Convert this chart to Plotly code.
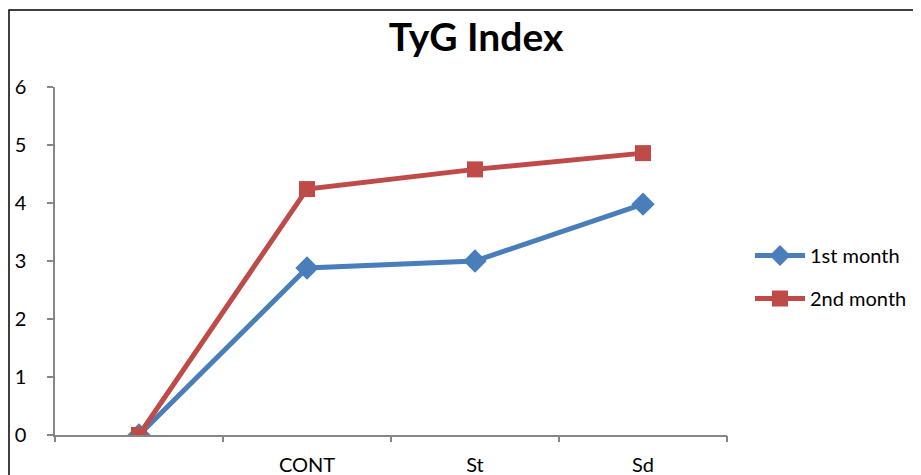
import plotly.graph_objects as go

categories = ["", "CONT", "St", "Sd"]
first_month = [0, 2.88, 3.0, 3.98]
second_month = [0, 4.24, 4.58, 4.86]
series_names = ["1st month", "2nd month"]
y_ticks = [0, 1, 2, 3, 4, 5, 6]

# the page body adds an 8px offset; size the figure to fill the rest
O = 8
W, H = 921 - O, 475 - O
# plot area on screen: x 55..727, y 87..435
L, R, T, B = 55 - O, W - (727 - O), 87 - O, H - (435 - O)

def px_x(p):
    return (p - 55) / 672

def px_y(p):
    return (435 - p) / 348

cat_x = list(range(len(categories)))
bounds = [i - 0.5 for i in range(len(categories) + 1)]
FONT = "Lato, Open Sans, sans-serif"
AX = "#868686"

fig = go.Figure()
fig.add_trace(go.Scatter(
    x=cat_x, y=first_month, name=series_names[0], mode="lines+markers",
    line=dict(color="#4A7EBB", width=5),
    marker=dict(symbol="diamond", size=18, color="#4A7EBB"),
    legendgroup="a",
))
fig.add_trace(go.Scatter(
    x=cat_x, y=second_month, name=series_names[1], mode="lines+markers",
    line=dict(color="#BE4B48", width=5),
    marker=dict(symbol="square", size=16, color="#BE4B48"),
    legendgroup="b",
))
# invisible trace carrying the category-boundary ticks
fig.add_trace(go.Scatter(x=[], y=[], showlegend=False, xaxis="x2", hoverinfo="skip"))

fig.add_shape(type="rect", xref="paper", yref="paper",
              x0=px_x(9), x1=px_x(940), y0=px_y(10), y1=px_y(490),
              line=dict(color="black", width=1.5), fillcolor="rgba(0,0,0,0)", layer="below")

fig.update_layout(
    width=W, height=H,
    margin=dict(l=L, r=R, t=T, b=B, autoexpand=False),
    paper_bgcolor="white", plot_bgcolor="white",
    font=dict(family=FONT, size=20, color="black"),
    title=dict(text="<b>TyG Index</b>", x=(476 - O) / W, xanchor="center",
               y=1 - (37 - O) / H, yanchor="middle",
               font=dict(size=39, family=FONT, color="black")),
    showlegend=True,
    legend=dict(x=px_x(750), xanchor="left", y=px_y(277), yanchor="middle",
                font=dict(size=20), tracegroupgap=14, itemwidth=50,
                bgcolor="rgba(0,0,0,0)"),
    xaxis=dict(
        range=[-0.5, len(categories) - 0.5],
        tickvals=cat_x, ticktext=categories,
        showgrid=False, zeroline=False, automargin=False,
        showline=True, linecolor=AX, linewidth=1.5,
        ticks="", ticklabelstandoff=11,
    ),
    xaxis2=dict(
        overlaying="x", anchor="y", side="bottom",
        range=[-0.5, len(categories) - 0.5],
        tickvals=bounds, ticktext=[""] * len(bounds),
        ticks="outside", ticklen=6, tickcolor=AX, tickwidth=1.5,
        showgrid=False, zeroline=False, showline=False, automargin=False,
    ),
    yaxis=dict(
        range=[0, 6], tickvals=y_ticks,
        showgrid=False, zeroline=False, automargin=False,
        showline=True, linecolor=AX, linewidth=1.5,
        ticks="outside", ticklen=6, tickcolor=AX, tickwidth=1.5,
        ticklabelstandoff=17,
    ),
)

fig.write_html("out.html")
